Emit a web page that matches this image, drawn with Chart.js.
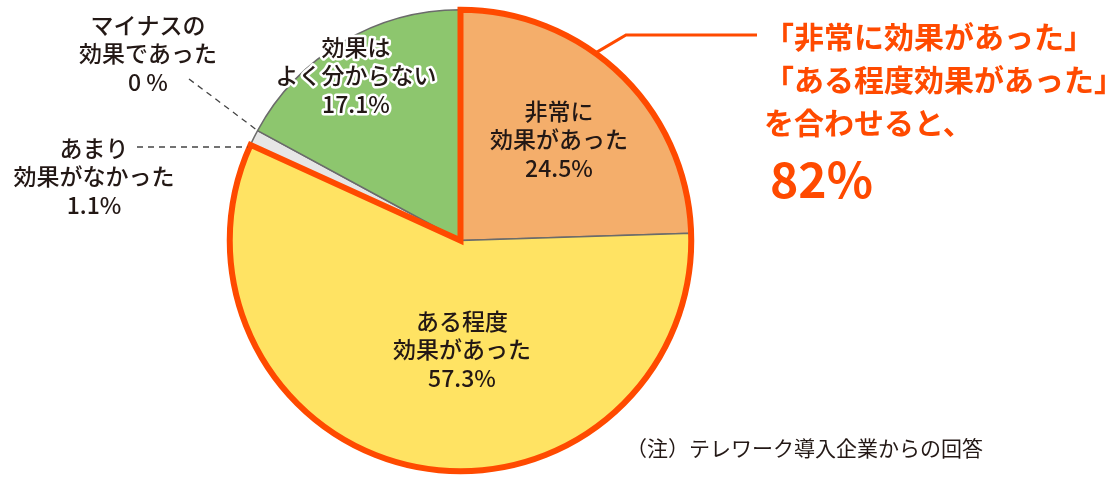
<!DOCTYPE html>
<html>
<head>
<meta charset="utf-8">
<script src="https://cdn.jsdelivr.net/npm/chart.js@4"></script>
<style>
html,body{margin:0;padding:0;background:#fff;}
#wrap{width:1120px;height:480px;position:relative;}
</style>
</head>
<body>
<div id="wrap"><canvas id="c" width="1120" height="480"></canvas></div>
<script>
// ---- data ----
const categories = ['非常に効果があった', 'ある程度効果があった', 'あまり効果がなかった', 'マイナスの効果であった', '効果はよく分からない'];
const values = [24.5, 57.3, 1.1, 0, 17.1];
const valueLabels = ['24.5%', '57.3%', '1.1%', '0 %', '17.1%'];
const labelLines = [
  ['非常に', '効果があった'],
  ['ある程度', '効果があった'],
  ['あまり', '効果がなかった'],
  ['マイナスの', '効果であった'],
  ['効果は', 'よく分からない']
];
const calloutLines = ['「非常に効果があった」', '「ある程度効果があった」', 'を合わせると、'];
const calloutTotal = '82%';
const noteText = '（注）テレワーク導入企業からの回答';

// ---- styles ----
const sliceColors = ['#F4AE6B', '#FFE363', '#E6E6E6', '#FFFFFF', '#8DC66E'];
const accent = '#FF4A00';
const textColor = '#231815';
const FONT = '"Noto Sans CJK JP", "Noto Sans", sans-serif';

// label anchors (center of text block, first line y)
const labelPos = [
  {x: 559, y: 111, halo: false},
  {x: 462, y: 321, halo: false},
  {x: 94,  y: 148, halo: true},
  {x: 148, y: 25,  halo: true},
  {x: 356, y: 47,  halo: true}
];

function drawLines(ctx, lines, x, y, lh, halo) {
  lines.forEach((t, i) => {
    if (halo) {
      ctx.lineWidth = 5;
      ctx.strokeStyle = '#fff';
      ctx.lineJoin = 'round';
      ctx.strokeText(t, x, y + i * lh);
    }
    ctx.fillText(t, x, y + i * lh);
  });
}

const overlay = {
  id: 'overlay',
  afterDatasetsDraw(chart) {
    const ctx = chart.ctx;
    const meta = chart.getDatasetMeta(0);
    const a0 = meta.data[0], a1 = meta.data[1];
    const cx = a0.x, cy = a0.y, r = a0.outerRadius;

    // combined outline of the first two slices
    ctx.save();
    ctx.beginPath();
    ctx.moveTo(cx, cy);
    ctx.arc(cx, cy, r, a0.startAngle, a1.endAngle);
    ctx.closePath();
    ctx.lineWidth = 6;
    ctx.lineJoin = 'miter';
    ctx.strokeStyle = accent;
    ctx.stroke();

    // callout leader line from the outline
    const ang = a0.startAngle + (a0.endAngle - a0.startAngle) * 0.405;
    const sx = cx + Math.cos(ang) * r, sy = cy + Math.sin(ang) * r;
    ctx.beginPath();
    ctx.moveTo(sx, sy);
    ctx.lineTo(626, 35);
    ctx.lineTo(757, 35);
    ctx.lineWidth = 3;
    ctx.lineJoin = 'miter';
    ctx.stroke();

    // dashed leaders for small slices
    ctx.setLineDash([6, 5]);
    ctx.lineWidth = 1.3;
    ctx.strokeStyle = '#444';
    const a3 = meta.data[3];
    const ex = cx + Math.cos(a3.startAngle) * r, ey = cy + Math.sin(a3.startAngle) * r;
    ctx.beginPath();
    ctx.moveTo(189, 79);
    ctx.lineTo(ex, ey);
    ctx.stroke();
    const ly = 147;
    const lx = cx - Math.sqrt(r * r - (ly - cy) * (ly - cy));
    ctx.beginPath();
    ctx.moveTo(137, ly);
    ctx.lineTo(lx - 2, ly);
    ctx.stroke();
    ctx.setLineDash([]);

    // slice labels
    ctx.textAlign = 'center';
    ctx.textBaseline = 'middle';
    ctx.font = '500 23px ' + FONT;
    ctx.fillStyle = textColor;
    for (let i = 0; i < categories.length; i++) {
      const p = labelPos[i];
      drawLines(ctx, labelLines[i].concat([valueLabels[i]]), p.x, p.y, 28.5, p.halo);
    }

    // callout text
    ctx.textAlign = 'left';
    ctx.fillStyle = accent;
    ctx.font = '700 30px ' + FONT;
    calloutLines.forEach((t, i) => ctx.fillText(t, 764, 37 + i * 43));
    ctx.font = '700 48px ' + FONT;
    ctx.fillText(calloutTotal, 770, 180);

    // note
    ctx.fillStyle = textColor;
    ctx.font = '400 21px ' + FONT;
    ctx.fillText(noteText, 626, 448);
    ctx.restore();
  }
};

new Chart(document.getElementById('c'), {
  type: 'pie',
  data: {
    labels: categories,
    datasets: [{
      data: values,
      backgroundColor: sliceColors,
      borderColor: '#6B6B6B',
      borderWidth: 1.5
    }]
  },
  options: {
    responsive: false,
    animation: false,
    devicePixelRatio: 1,
    layout: {padding: {left: 229, right: 428, top: 9, bottom: 8}},
    plugins: {legend: {display: false}, tooltip: {enabled: false}}
  },
  plugins: [overlay]
});
</script>
</body>
</html>
